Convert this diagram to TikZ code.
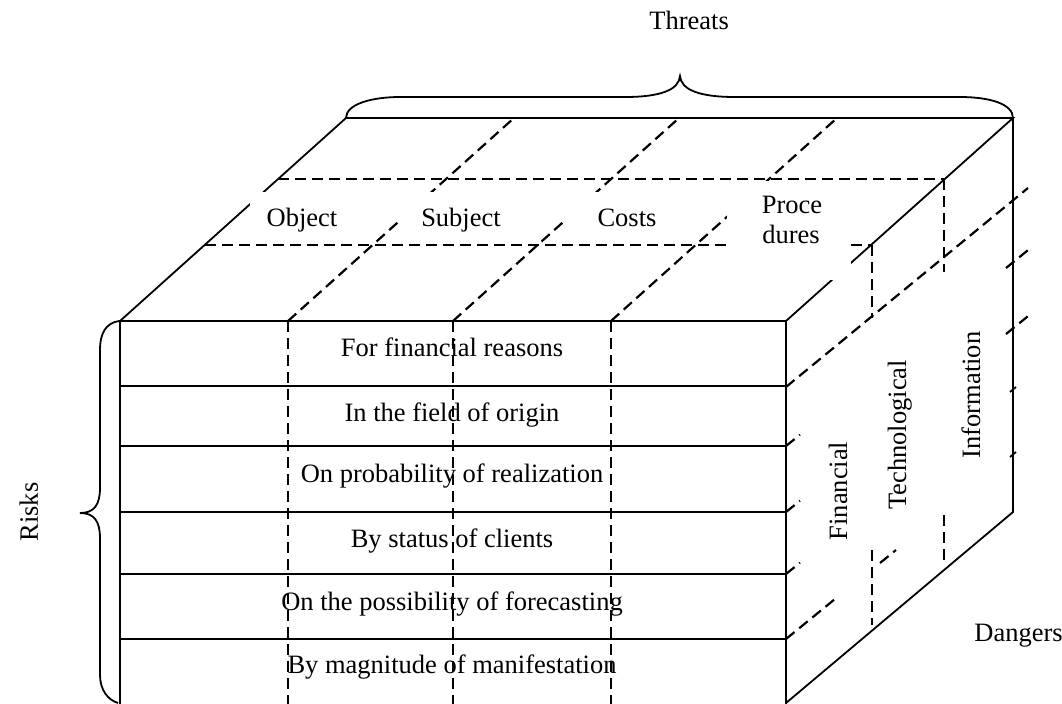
\documentclass[tikz,border=0pt]{standalone}
\usepackage{fontspec}
\setmainfont{Liberation Serif}
\begin{document}
\begin{tikzpicture}[x=0.5pt,y=-0.5pt]
\tikzset{
  edge/.style={line width=0.9pt},
  dsh/.style={line width=1.1pt, dash pattern=on 5.5pt off 3pt},
  lbl/.style={font=\fontsize{13.25}{15}\selectfont, inner sep=0pt},
  hider/.style={fill=white, draw=none}
}
\useasboundingbox (0,0) rectangle (1062,703);
% ---------- top face ----------
\coordinate (FL) at (120,321);
\coordinate (FR) at (786,321);
\coordinate (BL) at (346,118);
\coordinate (BR) at (1013,118);
\coordinate (BB) at (1013,512);
\coordinate (FB) at (786,703);
\draw[dsh] (288,321) -- (514,118);
\draw[dsh] (453,321) -- (679,118);
\draw[dsh] (611,321) -- (837,118);
\draw[dsh] (205,245) -- (872,245);
\draw[edge] (FL) -- (BL) -- (BR) -- (FR);
% white text boxes of the top face
\fill[hider] (250,192) rectangle (348,240);
\fill[hider] (399,192) rectangle (520,240);
\fill[hider] (566,192) rectangle (690,240);
\fill[hider] (727,181) rectangle (851,280);
\draw[dsh] (278,179) -- (944,179);
% ---------- front face ----------
\foreach \x in {288,453,611} { \draw[dsh] (\x,321) -- (\x,705); }
\draw[edge] (120,705) -- (FL) -- (FR) -- (786,705);
\foreach \y in {386,446,512,574,639} { \draw[edge] (120,\y) -- (786,\y); }
% ---------- right face ----------
\draw[edge] (BR) -- (BB) -- (FB);
\draw[dsh] (944,179) -- (944,272);
\draw[dsh] (944,515) -- (944,560);
\draw[dsh] (872,245) -- (872,318);
\draw[dsh] (872,550) -- (872,625);
\draw[dsh] (786,387) -- (1028,188);
\draw[dsh] (786,446) -- (800,434.7);
\draw[dsh] (1006,268) -- (1030,248.5);
\draw[dsh] (786,512) -- (800,500.7);
\draw[dsh] (1006,334) -- (1030,314.5);
\draw[dsh] (786,574) -- (800,562.7);
\draw[edge] (1010,392) -- (1016,387);
\draw[dsh] (786,639) -- (835,599);
\draw[dsh] (880,563) -- (896,550);
\draw[edge] (1010,457) -- (1016,452);
% ---------- braces ----------
\draw[edge] (BL) .. controls (346,104) and (372,97) .. (400,97) -- (625,97)
  .. controls (660,97) and (679,90) .. (680,76)
  .. controls (681,90) and (700,97) .. (735,97) -- (960,97)
  .. controls (990,97) and (1013,104) .. (BR);
\draw[edge] (119,321) .. controls (106,323) and (100,333) .. (100,350) -- (100,488)
  .. controls (100,505) and (94,513) .. (80,513)
  .. controls (94,513) and (100,521) .. (100,538) -- (100,675)
  .. controls (100,690) and (108,700) .. (118,703);
% ---------- labels ----------
\node[lbl, anchor=base west] (threats) at (649,29) {Threats};
\node[lbl, anchor=base, rotate=90] (risks) at (38,512) {Risks};
\node[lbl, anchor=base west] (dangers) at (974,641) {Dangers};
\node[lbl, anchor=base] (obj) at (302,226) {Object};
\node[lbl, anchor=base] (subj) at (461,226) {Subject};
\node[lbl, anchor=base] (costs) at (627,226) {Costs};
\node[lbl, anchor=base] (proc1) at (792,213) {Proce};
\node[lbl, anchor=base] (proc2) at (791,243) {dures};
\node[lbl, anchor=base] (r1) at (452,356) {For financial reasons};
\node[lbl, anchor=base] (r2) at (452,421) {In the field of origin};
\node[lbl, anchor=base] (r3) at (452,482) {On probability of realization};
\node[lbl, anchor=base] (r4) at (452,547) {By status of clients};
\node[lbl, anchor=base] (r5) at (452,610) {On the possibility of forecasting};
\node[lbl, anchor=base] (r6) at (452,673) {By magnitude of manifestation};
\node[lbl, anchor=base, rotate=90] (fin) at (847,491) {Financial};
\node[lbl, anchor=base, rotate=90] (tech) at (906,435) {Technological};
\node[lbl, anchor=base, rotate=90] (info) at (980,395) {Information};
\end{tikzpicture}
\end{document}
